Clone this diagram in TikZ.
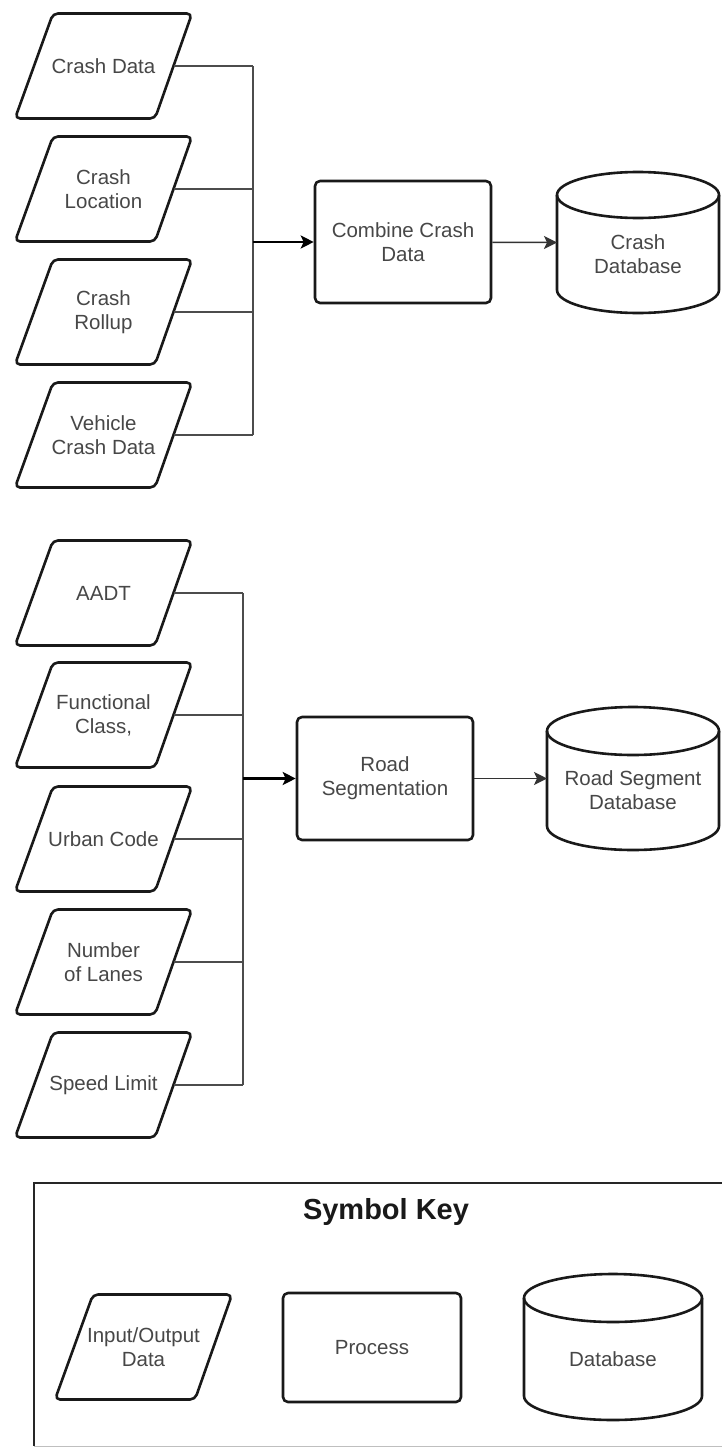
\documentclass[tikz,border=0pt]{standalone}
\usepackage{fontspec}
\setmainfont{Liberation Sans}
\usetikzlibrary{arrows.meta}
\tikzset{
  outline/.style={draw=black!90, line width=2.6pt, line join=round},
  txt/.style={text=black!72, font=\fontsize{20.5}{24}\selectfont, align=center, inner sep=0pt},
  procbox/.style={outline, txt, rounded corners=5pt, minimum width=176pt, minimum height=122pt},
  feed/.style={draw=black!70, line width=1.6pt},
  mainarrow/.style={draw=black, line width=2.4pt, -{Stealth[length=13pt,width=13pt,inset=3pt]}},
  outarrow/.style={draw=black!80, line width=1.5pt, -{Stealth[length=13pt,width=13pt,inset=3pt]}},
  keyframe/.style={draw=black!85, line width=1.5pt},
  title/.style={text=black!90, font=\fontsize{29}{34}\selectfont\bfseries, inner sep=0pt}
}
% parallelogram: name, cx, cy, text
\newcommand{\iobox}[4]{%
  \draw[outline, rounded corners=5pt] (#2-88.5,#3+52.5) -- (#2-50.5,#3-52.5) -- (#2+88.5,#3-52.5) -- (#2+51.5,#3+52.5) -- cycle;
  \coordinate (#1-e) at (#2+70,#3);
  \node[txt] (#1) at (#2,#3) {#4};
}
% cylinder: name, left, top, right, bottom, ry, text
\newcommand{\dbcyl}[7]{%
  \pgfmathsetmacro\dbrxval{(#4-#2)/2}
  \draw[outline] (#2,#3+#6) -- (#2,#5-#6) arc[start angle=180, end angle=360, x radius=\dbrxval pt, y radius=#6pt] -- (#4,#3+#6);
  \draw[outline] ({(#2+#4)/2},#3+#6) ellipse[x radius=\dbrxval pt, y radius=#6pt];
  \coordinate (#1-w) at (#2,{(#3+#5)/2});
  \node[txt] (#1) at ({(#2+#4)/2},{(#3+#5)/2+12}) {#7};
}
\begin{document}
\begin{tikzpicture}[x=1pt,y=-1pt]
\useasboundingbox[fill=white] (0,0) rectangle (722,1448);

% ---------- crash group ----------
\iobox{cd}{103.5}{66}{Crash Data}
\iobox{cl}{103.5}{189}{Crash\\Location}
\iobox{cr}{103.5}{312}{Crash\\Rollup}
\iobox{vc}{103.5}{435}{Vehicle\\Crash Data}
\coordinate (busA) at (253,242);
\node[procbox] (combine) at (403,242) {Combine Crash\\Data};
\dbcyl{crashdb}{557}{172}{719}{313}{23}{Crash\\Database}
\foreach \n in {cd,cl,cr,vc} \draw[feed] (\n-e) -- (\n-e -| busA);
\draw[feed] (cd-e -| busA) -- (vc-e -| busA);
\draw[mainarrow] (busA) -- (combine);
\draw[outarrow] (combine) -- (crashdb-w);

% ---------- road group ----------
\iobox{aadt}{103.5}{593}{AADT}
\iobox{fc}{103.5}{715}{Functional\\Class,}
\iobox{uc}{103.5}{839}{Urban Code}
\iobox{nl}{103.5}{962}{Number\\of Lanes}
\iobox{sl}{103.5}{1085}{Speed Limit}
\coordinate (busB) at (243,778.5);
\node[procbox, minimum height=123pt] (road) at (385,778.5) {Road\\Segmentation};
\dbcyl{roaddb}{547}{707}{719}{850}{24}{Road Segment\\Database}
\foreach \n in {aadt,fc,uc,nl,sl} \draw[feed] (\n-e) -- (\n-e -| busB);
\draw[feed] (aadt-e -| busB) -- (sl-e -| busB);
\draw[mainarrow] (busB) -- (road);
\draw[outarrow] (road) -- (roaddb-w);

% ---------- symbol key ----------
\draw[keyframe] (722,1183) -- (34,1183) -- (34,1446);
\draw[draw=black!25, line width=1pt] (34,1446) -- (722,1446);
\node[title] (keytitle) at (386,1212) {Symbol Key};
\iobox{keyio}{143.5}{1347}{Input/Output\\Data}
\node[procbox, minimum width=178pt, minimum height=109pt] (keyproc) at (372,1347.5) {Process};
\dbcyl{keydb}{524}{1274}{702}{1420}{24}{Database}
\end{tikzpicture}
\end{document}
